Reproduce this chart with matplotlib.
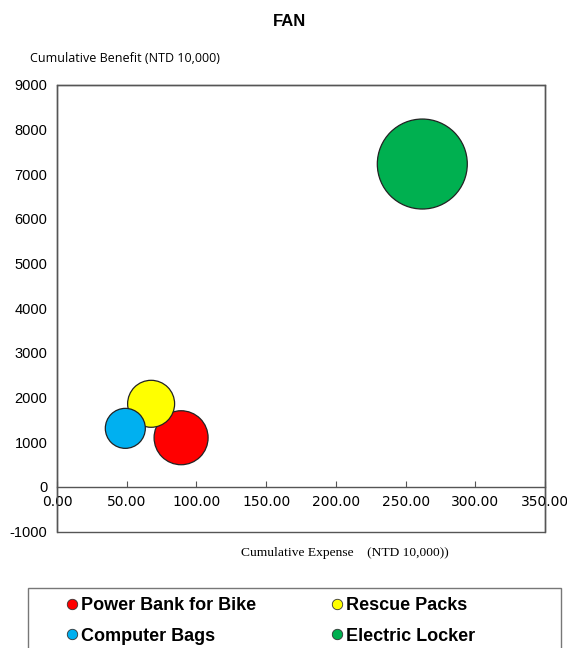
import matplotlib.pyplot as plt
from matplotlib.lines import Line2D
from matplotlib.patches import Rectangle

# data
products = ['Power Bank for Bike', 'Rescue Packs', 'Computer Bags', 'Electric Locker']
expense = [89.0, 67.5, 49.0, 262.0]
benefit = [1100, 1860, 1310, 7230]
bubble = [729, 552, 400, 2025]   # relative bubble size
colors = ['#FF0000', '#FFFF00', '#00B0F0', '#00B050']

x_ticks = [0, 50, 100, 150, 200, 250, 300, 350]
y_ticks = list(range(-1000, 10000, 1000))

fig = plt.figure(figsize=(5.67, 6.48), dpi=100)
ax = fig.add_axes([57 / 567, 1 - 531.5 / 648, 488 / 567, 446.5 / 648])

# bubble area in points^2 (1 px = 0.72 pt at 100 dpi)
sizes = [(1.44 * b ** 0.5) ** 2 for b in bubble]
ax.scatter(expense, benefit, s=sizes, c=colors, edgecolors='#222222',
           linewidths=0.9, zorder=3)

ax.set_xlim(0, 350)
ax.set_ylim(-1000, 9000)
ax.set_xticks(x_ticks)
ax.set_xticklabels([f'{v:.2f}' for v in x_ticks], fontfamily='Liberation Sans', fontsize=10.5)
ax.set_yticks(y_ticks)
ax.set_yticklabels([str(v) for v in y_ticks], fontfamily='Liberation Sans', fontsize=10.5)

ax.spines['bottom'].set_position(('data', 0))
for s in ax.spines.values():
    s.set_color('#555555')
    s.set_linewidth(1)
ax.add_patch(Rectangle((0, 0), 1, 1, transform=ax.transAxes, fill=False,
                       edgecolor='#555555', linewidth=1, clip_on=False))
ax.tick_params(axis='x', direction='in', length=4, color='#555555', pad=6)
ax.tick_params(axis='y', length=0, pad=7)

fig.text(290 / 567, 1 - 22 / 648, 'FAN', ha='center', va='center',
         fontfamily='Liberation Sans', fontweight='bold', fontsize=12)
fig.text(30 / 567, 1 - 59 / 648, 'Cumulative Benefit (NTD 10,000)', ha='left', va='center',
         fontfamily='Open Sans', fontsize=9)
fig.text(345 / 567, 1 - 553 / 648, 'Cumulative Expense    (NTD 10,000))', ha='center',
         va='center', fontfamily='Liberation Serif', fontsize=9.7)

# legend box
fig.add_artist(Rectangle((28 / 567, -0.05), 533 / 567, 0.05 + 1 - 588 / 648,
                         transform=fig.transFigure, fill=False,
                         edgecolor='#777777', linewidth=1))
handles = [Line2D([], [], marker='o', linestyle='none', markersize=7.5,
                  markerfacecolor=c, markeredgecolor='#333333', markeredgewidth=0.6)
           for c in colors]
# legend fills column by column, so reorder to get rows of two
order = [0, 2, 1, 3]
fig.legend([handles[i] for i in order], [products[i] for i in order], ncol=2,
           frameon=False, loc='upper left',
           bbox_to_anchor=(50 / 567, 1 - 581 / 648), handlelength=0.6,
           handletextpad=0.2, columnspacing=4.2, labelspacing=0.75,
           prop={'family': 'Liberation Sans', 'weight': 'bold', 'size': 13})

fig.savefig('out.png', dpi=100)
